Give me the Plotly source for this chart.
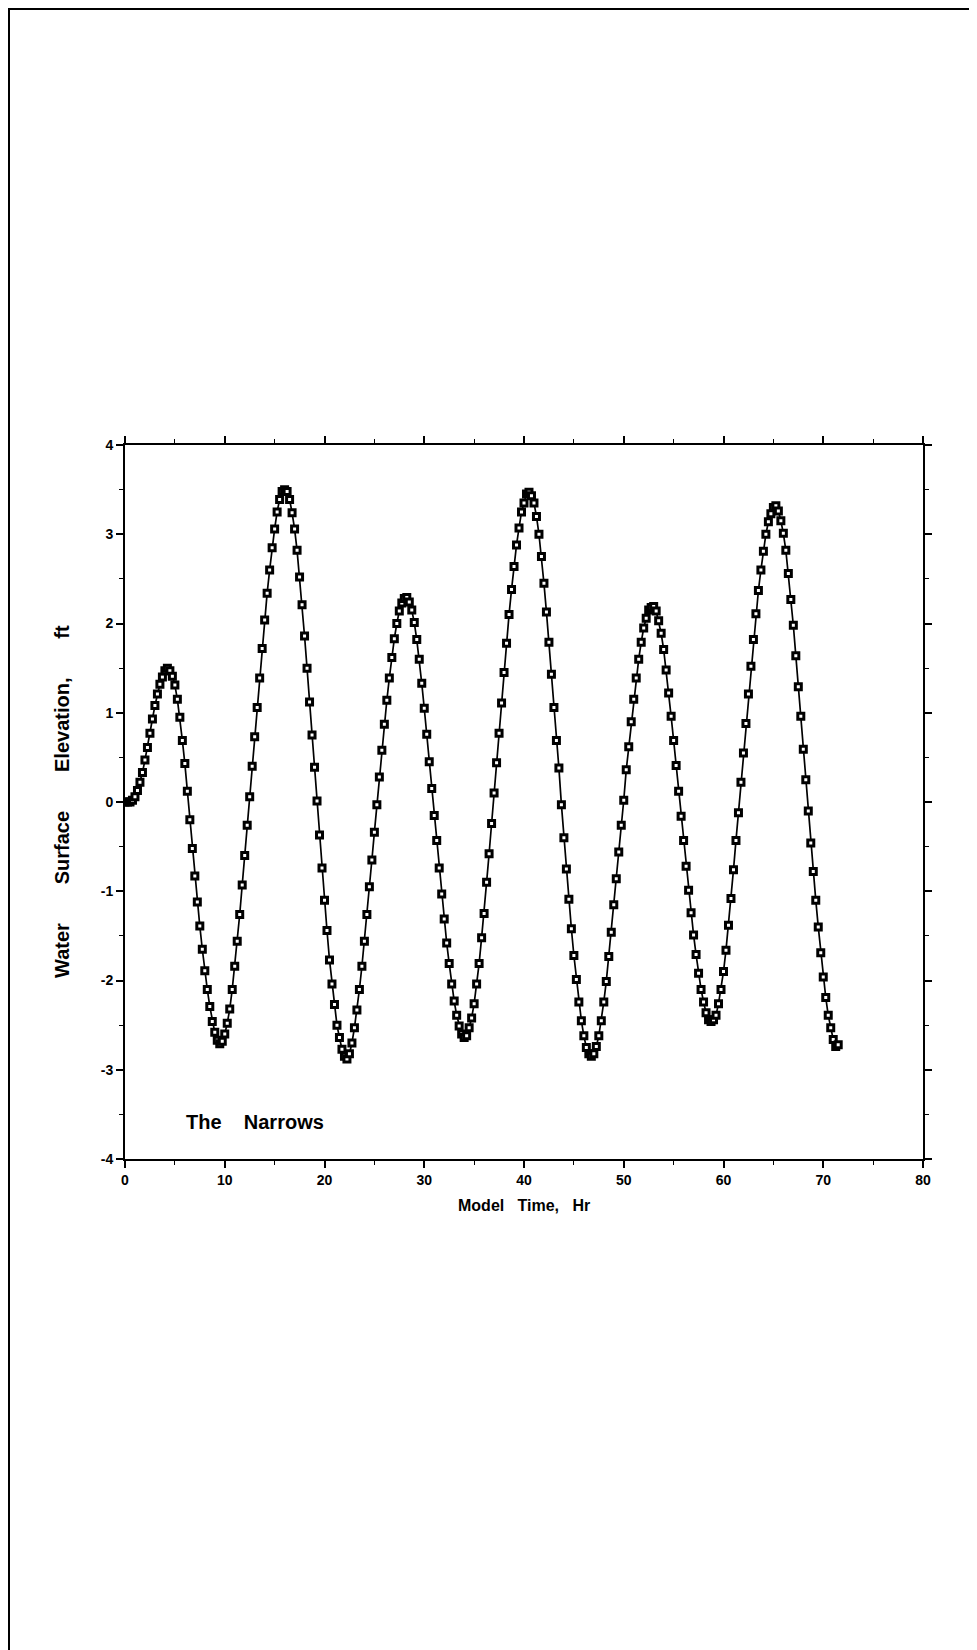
import plotly.graph_objects as go

START_HR = 0.0
STEP_HR = 0.25

# Water surface elevation (ft), in 12-hour blocks
elev_00_12 = [0.00, 0.00, 0.00, 0.02, 0.06, 0.13, 0.22, 0.33, 0.47, 0.61, 0.77, 0.93,
              1.08, 1.21, 1.32, 1.40, 1.47, 1.50, 1.47, 1.41, 1.31, 1.15, 0.95, 0.69,
              0.43, 0.12, -0.20, -0.52, -0.83, -1.12, -1.39, -1.65, -1.89, -2.10, -2.29, -2.46,
              -2.58, -2.67, -2.71, -2.68, -2.60, -2.48, -2.32, -2.10, -1.84, -1.56, -1.26, -0.93]
elev_12_24 = [-0.60, -0.26, 0.06, 0.40, 0.73, 1.06, 1.39, 1.72, 2.04, 2.34, 2.60, 2.85,
              3.06, 3.25, 3.39, 3.48, 3.50, 3.48, 3.39, 3.24, 3.06, 2.82, 2.52, 2.21,
              1.86, 1.50, 1.12, 0.75, 0.39, 0.01, -0.37, -0.74, -1.10, -1.44, -1.77, -2.04,
              -2.27, -2.50, -2.64, -2.77, -2.85, -2.88, -2.82, -2.70, -2.53, -2.33, -2.10, -1.84]
elev_24_36 = [-1.56, -1.26, -0.95, -0.65, -0.34, -0.03, 0.28, 0.58, 0.87, 1.14, 1.39, 1.62,
              1.83, 2.00, 2.14, 2.23, 2.28, 2.29, 2.24, 2.15, 2.01, 1.82, 1.60, 1.33,
              1.05, 0.76, 0.45, 0.15, -0.15, -0.43, -0.74, -1.03, -1.31, -1.58, -1.81, -2.04,
              -2.23, -2.39, -2.51, -2.60, -2.64, -2.62, -2.53, -2.42, -2.26, -2.04, -1.81, -1.52]
elev_36_48 = [-1.25, -0.90, -0.58, -0.24, 0.10, 0.44, 0.77, 1.11, 1.45, 1.78, 2.10, 2.38,
              2.64, 2.88, 3.07, 3.25, 3.35, 3.45, 3.47, 3.43, 3.35, 3.20, 3.00, 2.75,
              2.45, 2.13, 1.79, 1.43, 1.06, 0.69, 0.38, -0.03, -0.40, -0.75, -1.09, -1.42,
              -1.72, -1.99, -2.24, -2.45, -2.62, -2.75, -2.82, -2.85, -2.82, -2.74, -2.62, -2.45]
elev_48_60 = [-2.24, -2.01, -1.73, -1.46, -1.15, -0.86, -0.56, -0.26, 0.02, 0.36, 0.62, 0.90,
              1.15, 1.39, 1.60, 1.79, 1.95, 2.06, 2.15, 2.18, 2.19, 2.14, 2.03, 1.89,
              1.71, 1.48, 1.22, 0.96, 0.69, 0.41, 0.12, -0.16, -0.43, -0.72, -0.99, -1.24,
              -1.49, -1.71, -1.92, -2.10, -2.24, -2.36, -2.44, -2.46, -2.44, -2.39, -2.26, -2.10]
elev_60_72 = [-1.90, -1.66, -1.38, -1.08, -0.76, -0.43, -0.12, 0.22, 0.55, 0.88, 1.21, 1.52,
              1.82, 2.11, 2.37, 2.60, 2.81, 3.00, 3.14, 3.23, 3.30, 3.32, 3.26, 3.15,
              3.01, 2.82, 2.56, 2.27, 1.98, 1.64, 1.29, 0.96, 0.59, 0.25, -0.10, -0.46,
              -0.78, -1.10, -1.40, -1.69, -1.96, -2.19, -2.39, -2.53, -2.66, -2.74, -2.72]

x_ticks = [0, 10, 20, 30, 40, 50, 60, 70, 80]
y_ticks = [-4, -3, -2, -1, 0, 1, 2, 3, 4]

elevation = elev_00_12 + elev_12_24 + elev_24_36 + elev_36_48 + elev_48_60 + elev_60_72
time_hr = [START_HR + STEP_HR * i for i in range(len(elevation))]

FONT = "Liberation Sans, Arial, Helvetica, sans-serif"
NB = "\u00a0"

# page offset (html body margin)
OFF = 8
W, H = 977 - OFF, 1650 - OFF
L, R, T, B = 125 - OFF, 923 - OFF, 445 - OFF, 1159 - OFF
pw, ph = R - L, B - T


def page_to_paper(px=None, py=None):
    x = None if px is None else (px - OFF - L) / pw
    y = None if py is None else (B - (py - OFF)) / ph
    return x, y


fig = go.Figure()
fig.add_trace(go.Scatter(
    x=time_hr, y=elevation, mode="lines+markers",
    line=dict(color="black", width=1.7),
    marker=dict(symbol="square", size=6.0, color="white",
                line=dict(color="black", width=3.0)),
    showlegend=False, hoverinfo="x+y"))

axis_common = dict(
    showline=True, linecolor="black", linewidth=2, mirror="allticks",
    ticks="outside", ticklen=7, tickwidth=1.5, tickcolor="black",
    showgrid=False, zeroline=False,
    tickfont=dict(family=FONT, size=14, color="black", weight="bold"),
)

fig.update_xaxes(range=[0, 80], tickvals=x_ticks, ticktext=[str(v) for v in x_ticks],
                 minor=dict(dtick=5, tick0=0, ticks="outside", ticklen=4, tickwidth=1.3,
                            tickcolor="black", showgrid=False),
                 **axis_common)
fig.update_yaxes(range=[-4, 4], tickvals=y_ticks, ticktext=[str(v) for v in y_ticks],
                 minor=dict(dtick=0.5, tick0=0, ticks="outside", ticklen=4, tickwidth=1.3,
                            tickcolor="black", showgrid=False),
                 **axis_common)

# page frame (left and top edges), in figure pixels converted to paper units
fx0, fy_bottom = (1 - L) / pw, (B - H) / ph
fy_top = (B - 1) / ph
fx1 = (W - L) / pw

fig.update_layout(
    width=W, height=H,
    margin=dict(l=L, r=W - R, t=T, b=H - B, pad=0),
    paper_bgcolor="white", plot_bgcolor="white",
    font=dict(family=FONT, color="black"),
    shapes=[dict(type="path", xref="paper", yref="paper",
                 path=f"M {fx0} {fy_bottom} L {fx0} {fy_top} L {fx1} {fy_top}",
                 line=dict(color="black", width=2))],
    annotations=[
        dict(text="<b>The" + NB * 4 + "Narrows</b>", x=13.0, y=-3.58, xref="x", yref="y",
             showarrow=False, xanchor="center", yanchor="middle",
             font=dict(family=FONT, size=20, color="black")),
        dict(text="<b>Model" + NB * 3 + "Time," + NB * 3 + "Hr</b>",
             x=0.5, y=page_to_paper(py=1205)[1], xref="paper", yref="paper",
             showarrow=False, xanchor="center", yanchor="middle",
             font=dict(family=FONT, size=16, color="black")),
        dict(text="<b>Water" + NB * 7 + "Surface" + NB * 7 + "Elevation," + NB * 7 + "ft</b>",
             x=page_to_paper(px=62)[0], y=0.5, xref="paper", yref="paper",
             showarrow=False, xanchor="center", yanchor="middle", textangle=-90,
             font=dict(family=FONT, size=20, color="black")),
    ],
)

fig.write_html("out.html")
